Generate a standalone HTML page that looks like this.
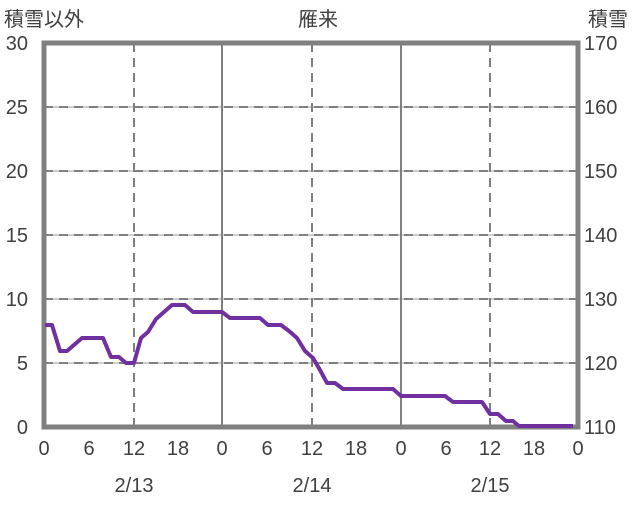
<!DOCTYPE html><html><head><style>body{margin:0;background:#fff}</style></head><body>
<svg width="636" height="501" xmlns="http://www.w3.org/2000/svg" font-family="Liberation Sans, Noto Sans CJK JP, sans-serif">
<rect width="636" height="501" fill="#fff"/>
<g stroke="#bfbfbf" stroke-width="1.5">
<line x1="44" x2="578" y1="107" y2="107"/><line x1="44" x2="578" y1="171" y2="171"/><line x1="44" x2="578" y1="235" y2="235"/><line x1="44" x2="578" y1="299" y2="299"/><line x1="44" x2="578" y1="363" y2="363"/></g>
<g stroke="#7f7f7f" stroke-width="2" stroke-dasharray="9,6">
<line x1="44" x2="578" y1="107" y2="107"/><line x1="44" x2="578" y1="171" y2="171"/><line x1="44" x2="578" y1="235" y2="235"/><line x1="44" x2="578" y1="299" y2="299"/><line x1="44" x2="578" y1="363" y2="363"/>
<line x1="134" x2="134" y1="43" y2="427"/><line x1="312" x2="312" y1="43" y2="427"/><line x1="490" x2="490" y1="43" y2="427"/></g>
<g stroke="#7f7f7f" stroke-width="2"><line x1="222" x2="222" y1="43" y2="427"/><line x1="401" x2="401" y1="43" y2="427"/></g>
<rect x="44" y="43" width="534" height="384" fill="none" stroke="#808080" stroke-width="5"/>
<polyline fill="none" stroke="#7030a0" stroke-width="4" stroke-linejoin="round" points="45,325 52,325 60,351 67,351 82,338 103,338 111,357 119,357 126,363 134,363 141,338 148,332 156,319 164,312 172,305 185,305 193,312 222,312 230,318 260,318 268,325 281,325 289,331 297,338 305,351 313,358 320,370 327,383 335,383 343,389 393,389 401,396 445,396 453,402 482,402 490,414 498,414 506,421 513,421 519,426 573,426"/>
<g font-size="20" fill="#404040" text-anchor="end">
<text x="28" y="50">30</text><text x="28" y="114">25</text><text x="28" y="178">20</text><text x="28" y="242">15</text><text x="28" y="306">10</text><text x="28" y="370">5</text><text x="28" y="434">0</text></g>
<g font-size="20" fill="#404040" text-anchor="start">
<text x="584" y="50">170</text><text x="584" y="114">160</text><text x="584" y="178">150</text><text x="584" y="242">140</text><text x="584" y="306">130</text><text x="584" y="370">120</text><text x="584" y="434">110</text></g>
<g font-size="20" fill="#404040" text-anchor="middle">
<text x="44" y="455">0</text><text x="89" y="455">6</text><text x="134" y="455">12</text><text x="178" y="455">18</text><text x="222" y="455">0</text><text x="267" y="455">6</text><text x="312" y="455">12</text><text x="356" y="455">18</text><text x="401" y="455">0</text><text x="446" y="455">6</text><text x="490" y="455">12</text><text x="534" y="455">18</text><text x="578" y="455">0</text>
<text x="134" y="492">2/13</text><text x="312" y="492">2/14</text><text x="490" y="492">2/15</text>
<text x="318" y="26">雁来</text></g>
<text x="4" y="26" font-size="20" fill="#404040">積雪以外</text>
<text x="588" y="26" font-size="20" fill="#404040">積雪</text>
</svg></body></html>
